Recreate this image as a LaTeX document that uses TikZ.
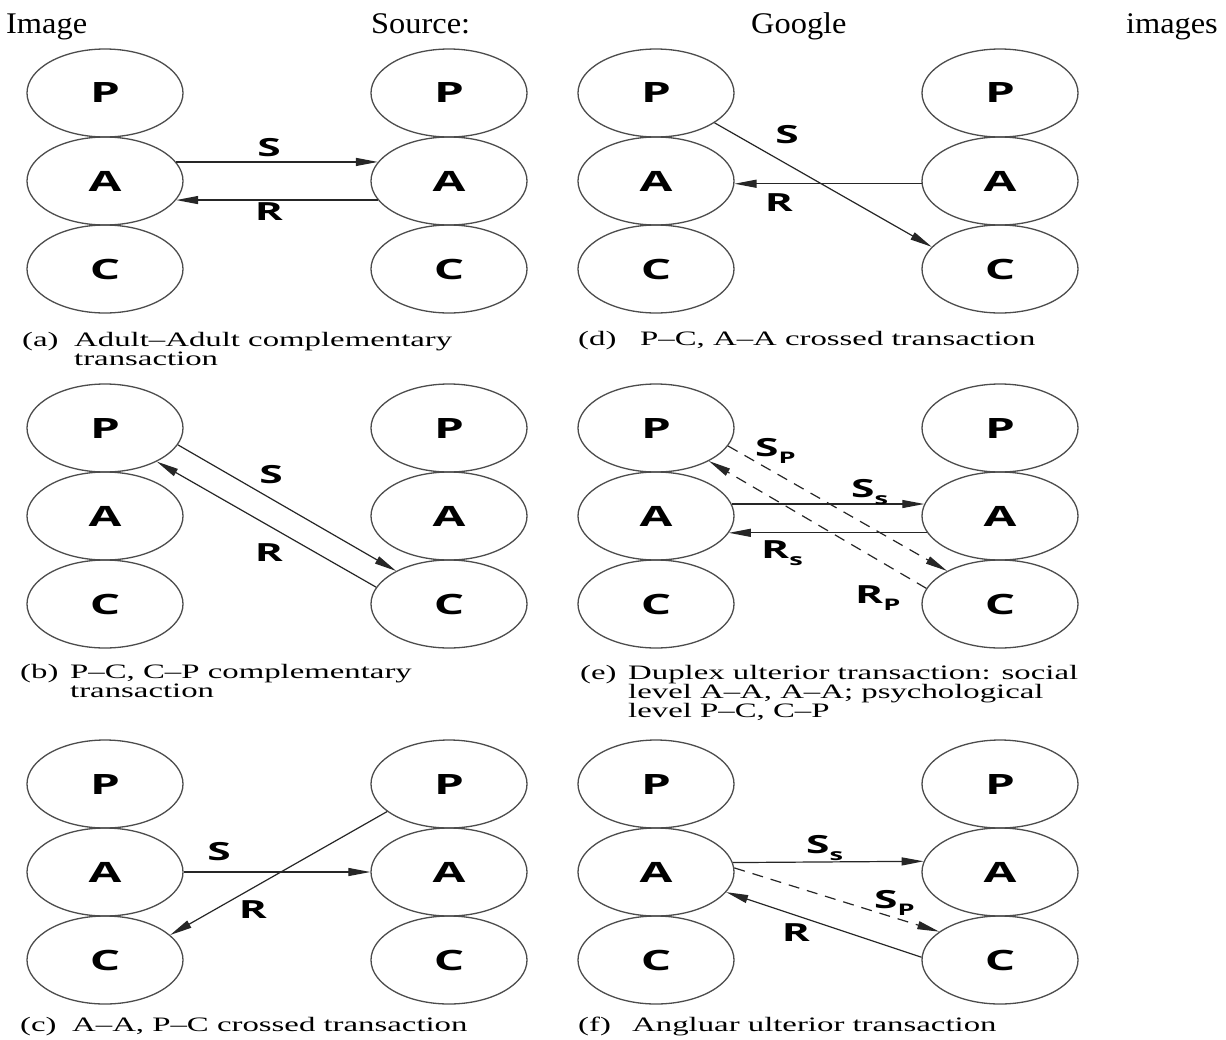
\documentclass[tikz,border=0pt]{standalone}
\usepackage{fontspec}
\usepackage{graphicx}
\usetikzlibrary{shapes.geometric,arrows.meta}
\setmainfont{Liberation Serif}
\newfontfamily\hdrfont[FakeStretch=1.08]{Liberation Serif}
\newfontfamily\capfont[FakeStretch=1.6]{Liberation Serif}
\newfontfamily\lblfont[FakeStretch=1.7]{Open Sans}
\newcommand\subl[1]{\raisebox{-7pt}{\fontsize{16}{16}\selectfont #1}}
\newcommand\egocol[3]{%
  \node[ego] (#1P) at (#2,#3) {P};
  \node[ego] (#1A) at (#2,#3+88) {A};
  \node[ego] (#1C) at (#2,#3+176) {C};}
\tikzset{
  ego/.style={ellipse, draw=black!70, line width=1.3pt, minimum width=156pt,
    minimum height=88pt, inner sep=0pt,
    font=\lblfont\bfseries\fontsize{28}{28}\selectfont},
  tr/.style={draw=black!85, line width=1.2pt, -{Triangle[length=22pt,width=8pt]}},
  ul/.style={tr, dash pattern=on 11pt off 8pt},
  lab/.style={font=\lblfont\bfseries\fontsize{25}{25}\selectfont, inner sep=0pt},
  labw/.style={lab, anchor=base west},
  captxt/.style={font=\capfont\fontsize{20.5}{19}\selectfont, inner sep=0pt,
    anchor=base west, align=left},
  hdr/.style={font=\hdrfont\fontsize{30}{32}\selectfont, inner sep=0pt},
}
\begin{document}
\begin{tikzpicture}[x=1pt,y=-1pt]
\useasboundingbox (0,0) rectangle (1226,1039);
\fill[white] (0,0) rectangle (1226,1039);
% header
\node[hdr, anchor=base west] (h1) at (6,33) {Image};
\node[hdr, anchor=base west] (h2) at (371,33) {Source:};
\node[hdr, anchor=base west] (h3) at (751,33) {Google};
\node[hdr, anchor=base east] (h4) at (1218,33) {images};
% ego columns
\egocol{aL}{105}{93}  \egocol{aR}{449}{93}
\egocol{dL}{656}{93}  \egocol{dR}{1000}{93}
\egocol{bL}{105}{428} \egocol{bR}{449}{428}
\egocol{eL}{656}{428} \egocol{eR}{1000}{428}
\egocol{cL}{105}{784} \egocol{cR}{449}{784}
\egocol{fL}{656}{784} \egocol{fR}{1000}{784}
% (a)
\draw[tr] (aLA.15) -- (aRA.165);
\draw[tr] (aRA.195) -- (aLA.-15);
\node[lab] (aS) at (269,148) {S};
\node[lab] (aRl) at (269,212) {R};
% (d)
\draw[tr] (dLP.-27) -- (dRC.162);
\draw[tr] (dRA.182) -- (dLA.-2);
\node[lab] (dS) at (787,135) {S};
\node[lab] (dRl) at (779,203) {R};
% (b)
\draw[tr] (bLP.-13.5) -- (bRC.148.6);
\draw[tr] (bRC.167) -- (bLP.-33);
\node[lab] (bS) at (271,475) {S};
\node[lab] (bRl) at (269,553) {R};
% (e)
\draw[tr] (eLA.9) -- (eRA.171);
\draw[tr] (eRA.193) -- (eLA.-13);
\draw[ul] (eLP.-14) -- (eRC.148.5);
\draw[ul] (eRC.168) -- (eLP.-32);
\node[labw] (eSp) at (755,456) {S\subl{P}};
\node[labw] (eSs) at (851,497) {S\subl{s}};
\node[labw] (eRs) at (761,558) {R\subl{s}};
\node[labw] (eRp) at (855,603) {R\subl{P}};
% (c)
\draw[tr] (cLA.east) -- (cRA.west);
\draw[tr] (cRP.204) -- (cLC.21.6);
\node[lab] (cS) at (219,852) {S};
\node[lab] (cRl) at (253,910) {R};
% (f)
\draw[tr] (fLA.7.5) -- (fRA.172.5);
\draw[ul] (fLA.3.5) -- (fRC.155);
\draw[tr] (fRC.178.5) -- (fLA.-16);
\node[labw] (fSs) at (806,853) {S\subl{s}};
\node[labw] (fSp) at (874,908) {S\subl{P}};
\node[lab] (fRl) at (796,933) {R};
% captions
\node[captxt] (ca1) at (22,346) {(a)};
\node[captxt] (ca2) at (74,365) {Adult–Adult complementary\\transaction};
\node[captxt] (cd1) at (578,345) {(d)};
\node[captxt] (cd2) at (640,345) {P–C, A–A crossed transaction};
\node[captxt] (cb1) at (20,678) {(b)};
\node[captxt] (cb2) at (70,697) {P–C, C–P complementary\\transaction};
\node[captxt] (ce1) at (580,679) {(e)};
\node[captxt] (ce2) at (628,717) {Duplex ulterior transaction: social\\level A–A, A–A; psychological\\level P–C, C–P};
\node[captxt] (cc1) at (20,1031) {(c)};
\node[captxt] (cc2) at (72,1031) {A–A, P–C crossed transaction};
\node[captxt] (cf1) at (578,1031) {(f)};
\node[captxt] (cf2) at (632,1031) {Angluar ulterior transaction};
\end{tikzpicture}
\end{document}
